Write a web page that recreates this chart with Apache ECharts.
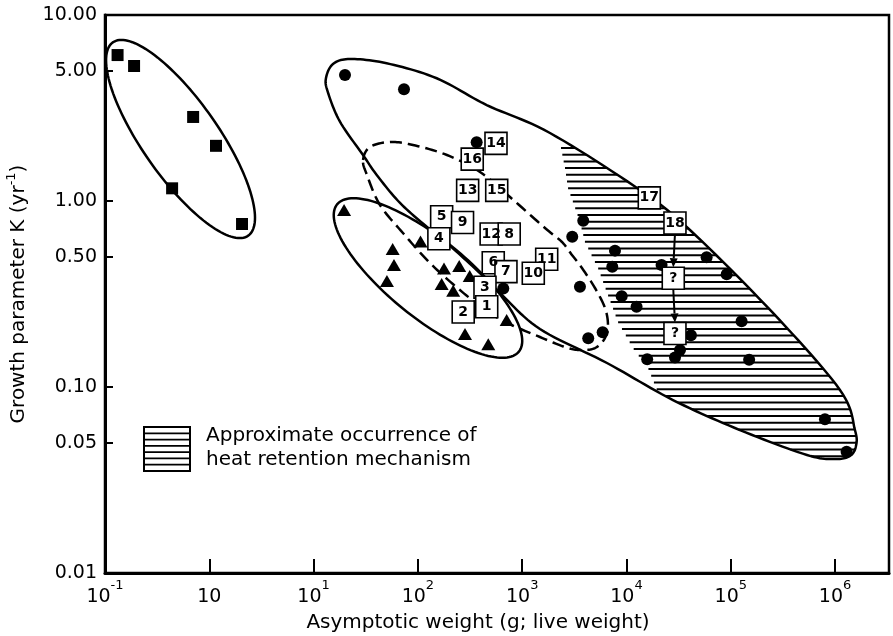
<!DOCTYPE html>
<html><head><meta charset="utf-8">
<script src="https://cdn.jsdelivr.net/npm/echarts@6/dist/echarts.min.js"></script>
<style>html,body{margin:0;padding:0;background:#fff}#c{width:893px;height:636px}</style>
</head><body><div id="c"></div>
<script>
// ---------- data ----------
const xTicks = [0.1, 1, 10, 100, 1000, 10000, 100000, 1000000];
const xTickLabels = ['{b|10}{s|-1}', '{b|10}', '{b|10}{s|1}', '{b|10}{s|2}', '{b|10}{s|3}', '{b|10}{s|4}', '{b|10}{s|5}', '{b|10}{s|6}'];
const yTicks = [0.01, 0.05, 0.1, 0.5, 1, 5, 10];
const yTickLabels = ['0.01', '0.05', '0.10', '0.50', '1.00', '5.00', '10.00'];

// [asymptotic weight (g), K (1/yr)]
const squares = [[0.132, 6.09], [0.19, 5.32], [0.70, 2.83], [1.16, 1.98], [0.44, 1.17], [2.06, 0.752]];
const triangles = [[19.6, 0.895], [106, 0.606], [57.3, 0.552], [59.0, 0.453], [50.5, 0.371], [178, 0.434], [249, 0.447],
  [314, 0.395], [169, 0.358], [218, 0.329], [710, 0.229], [283, 0.193], [473, 0.170]];
const circles = [[20.0, 4.76], [73.6, 3.99], [366, 2.07], [659, 0.339], [3850, 0.784], [3020, 0.643], [7760, 0.541],
  [7310, 0.443], [3580, 0.346], [9000, 0.308], [12500, 0.270], [4300, 0.183], [5910, 0.197], [21700, 0.453],
  [58700, 0.498], [91400, 0.404], [127000, 0.226], [41500, 0.190], [32600, 0.158], [29200, 0.144], [15800, 0.141],
  [150000, 0.140], [800000, 0.0671], [1290000, 0.0449]];
// [label, weight, K]
const boxes = [['14', 561, 2.04], ['16', 332, 1.68], ['13', 300, 1.14], ['15', 570, 1.14], ['5', 169, 0.823],
  ['9', 268, 0.766], ['4', 159, 0.627], ['12', 504, 0.665], ['8', 751, 0.665], ['6', 528, 0.466], ['7', 699, 0.417],
  ['11', 1718, 0.486], ['10', 1278, 0.409], ['3', 440, 0.344], ['2', 272, 0.253], ['1', 457, 0.270],
  ['17', 16550, 1.04], ['18', 29170, 0.762], ['?', 28100, 0.384], ['?', 29170, 0.194]];
const arrowLinks = [[17, 18], [18, 19]];

// ellipses: [centre weight, centre K, major-axis end weight, major-axis end K, minor/major ratio]
const ellipses = [[0.530, 2.154, 2.36, 0.651, 0.322], [125, 0.3855, 930, 0.155, 0.338]];
// outlines, [weight, K]
const bigOutline = [[13.15, 4.58], [15.35, 5.45], [22.3, 5.80], [50.2, 5.50], [151.5, 4.57], [457, 3.28], [1847, 2.32],
  [13470, 1.146], [40630, 0.698], [253800, 0.250], [1114000, 0.0964], [1551000, 0.0587], [1586000, 0.0482],
  [1390000, 0.0426], [997700, 0.0410], [537800, 0.0431], [122500, 0.0587], [27910, 0.0851], [6501, 0.1346],
  [1481, 0.205], [613, 0.320], [366, 0.4256], [189, 0.5945], [122.3, 0.725], [67.4, 0.976], [40.3, 1.38],
  [29.8, 1.767], [17.9, 2.67], [13.7, 3.85]];
const dashedOutline = [[29.8, 1.661], [34.7, 1.951], [54.0, 2.076], [89.7, 2.0], [190, 1.767], [394, 1.432], [764, 1.05],
  [1654, 0.716], [2407, 0.602], [3002, 0.5125], [3744, 0.436], [4989, 0.3406], [6222, 0.266], [6646, 0.2154],
  [6222, 0.1834], [4989, 0.162], [3583, 0.158], [2573, 0.164], [1481, 0.1857], [684, 0.2237], [421, 0.266],
  [253, 0.332], [130.6, 0.464], [71.9, 0.673], [43.3, 0.952], [32.5, 1.38]];
const hatchBoundary = [[2355, 1.927], [2573, 1.504], [2749, 1.175], [3069, 0.988], [3583, 0.771], [4000, 0.602],
  [5330, 0.436], [6646, 0.312], [8287, 0.2237], [11540, 0.162], [16080, 0.1265], [19610, 0.0964]];

const legendLines = ['Approximate occurrence of', 'heat retention mechanism'];
const xName = 'Asymptotic weight (g; live weight)';

// ---------- style ----------
const FONT = 'DejaVu Sans';
const BOX = 22;
const HATCH_GAP = 6.7;

function tickIndex(list, v) {
  for (let i = 0; i < list.length; i++) if (Math.abs(Math.log10(list[i]) - Math.log10(v)) < 1e-6) return i;
  return -1;
}
function smoothClosed(pts, steps) {
  const n = pts.length, out = [];
  for (let i = 0; i < n; i++) {
    const p0 = pts[(i - 1 + n) % n], p1 = pts[i], p2 = pts[(i + 1) % n], p3 = pts[(i + 2) % n];
    for (let s = 0; s < steps; s++) {
      const t = s / steps, t2 = t * t, t3 = t2 * t;
      const f = k => 0.5 * (2 * p1[k] + (-p0[k] + p2[k]) * t + (2 * p0[k] - 5 * p1[k] + 4 * p2[k] - p3[k]) * t2 + (-p0[k] + 3 * p1[k] - 3 * p2[k] + p3[k]) * t3);
      out.push([f(0), f(1)]);
    }
  }
  return out;
}
function interpX(pts, y) {
  if (y <= pts[0][1]) return pts[0][0];
  for (let i = 1; i < pts.length; i++) {
    if (y <= pts[i][1]) {
      const a = pts[i - 1], b = pts[i];
      return a[0] + (y - a[1]) / (b[1] - a[1]) * (b[0] - a[0]);
    }
  }
  const a = pts[pts.length - 2], b = pts[pts.length - 1];
  return b[0] + (y - b[1]) / (b[1] - a[1]) * (b[0] - a[0]);
}

const chart = echarts.init(document.getElementById('c'));
const legendChildren = [{type: 'rect', shape: {x: 144, y: 427, width: 46, height: 44}, style: {fill: '#fff', stroke: '#000', lineWidth: 2}}];
for (let k = 1; k <= 6; k++) {
  const y = 427 + k * 44 / 7;
  legendChildren.push({type: 'line', shape: {x1: 144, y1: y, x2: 190, y2: y}, style: {stroke: '#000', lineWidth: 1.8}});
}
legendLines.forEach((t, i) => legendChildren.push({type: 'text', x: 206, y: 436 + i * 24,
  style: {text: t, fill: '#000', font: '20px "' + FONT + '"', verticalAlign: 'middle', align: 'left'}}));

chart.setOption({
  animation: false,
  backgroundColor: '#fff',
  grid: {left: 105, right: 4, top: 15, bottom: 63, show: true, borderColor: '#000', borderWidth: 2.5,
    containLabel: false, outerBoundsMode: 'none'},
  graphic: [{type: 'group', children: legendChildren}],
  xAxis: {
    type: 'log', logBase: 10, min: 0.1, max: 3.29e6,
    axisLine: {show: true, lineStyle: {color: '#000', width: 3}},
    axisTick: {show: true, inside: true, length: 14, customValues: xTicks, lineStyle: {color: '#000', width: 2}},
    minorTick: {show: false}, splitLine: {show: false},
    axisLabel: {
      customValues: xTicks, margin: 6, color: '#000',
      formatter: v => { const i = tickIndex(xTicks, v); return i < 0 ? '' : xTickLabels[i]; },
      rich: {
        b: {fontSize: 19, fontFamily: FONT, color: '#000', lineHeight: 28, verticalAlign: 'bottom'},
        s: {fontSize: 13, fontFamily: FONT, color: '#000', lineHeight: 28, verticalAlign: 'top'}
      }
    },
    name: xName, nameLocation: 'middle', nameGap: 40,
    nameTextStyle: {fontSize: 20, fontFamily: FONT, color: '#000', padding: [0, 38, 0, 0]}
  },
  yAxis: {
    type: 'log', logBase: 10, min: 0.01, max: 10,
    axisLine: {show: true, lineStyle: {color: '#000', width: 3}},
    axisTick: {show: true, inside: true, length: 8, customValues: yTicks, lineStyle: {color: '#000', width: 2}},
    minorTick: {show: false}, splitLine: {show: false},
    axisLabel: {
      customValues: yTicks, margin: 8, color: '#000', fontSize: 19, fontFamily: FONT,
      formatter: v => { const i = tickIndex(yTicks, v); return i < 0 ? '' : yTickLabels[i]; }
    },
    name: '{n|Growth parameter K (yr}{s|-1}{n|)}', nameLocation: 'middle', nameGap: 76, nameRotate: 90,
    nameTextStyle: {
      color: '#000', fontFamily: FONT,
      rich: {
        n: {fontSize: 20, fontFamily: FONT, color: '#000', lineHeight: 24, verticalAlign: 'bottom'},
        s: {fontSize: 13, fontFamily: FONT, color: '#000', lineHeight: 24, verticalAlign: 'top'}
      }
    }
  },
  series: [
    { // hatched region
      type: 'custom', z: 1, silent: true, data: [bigOutline[0]], encode: {x: 0, y: 1},
      renderItem: (params, api) => {
        const poly = smoothClosed(bigOutline.map(p => api.coord(p)), 12);
        const hb = hatchBoundary.map(p => api.coord(p));
        let ymax = -Infinity;
        poly.forEach(p => { if (p[1] > ymax) ymax = p[1]; });
        const children = [];
        for (let y = hb[0][1]; y < ymax; y += HATCH_GAP) {
          const xs = [];
          for (let i = 0; i < poly.length; i++) {
            const a = poly[i], b = poly[(i + 1) % poly.length];
            if ((a[1] <= y && b[1] > y) || (b[1] <= y && a[1] > y)) xs.push(a[0] + (y - a[1]) / (b[1] - a[1]) * (b[0] - a[0]));
          }
          if (xs.length < 2) continue;
          xs.sort((p, q) => p - q);
          const xa = Math.max(xs[0], interpX(hb, y)), xr = xs[xs.length - 1];
          if (xr - xa > 1) children.push({type: 'line', shape: {x1: xa, y1: y, x2: xr, y2: y}, style: {stroke: '#000', lineWidth: 2}});
        }
        return {type: 'group', children};
      }
    },
    { // big outline (solid)
      type: 'custom', z: 2, silent: true, data: [bigOutline[0]], encode: {x: 0, y: 1},
      renderItem: (params, api) => ({type: 'polygon', shape: {points: smoothClosed(bigOutline.map(p => api.coord(p)), 12)},
        style: {fill: 'none', stroke: '#000', lineWidth: 2.5}})
    },
    { // dashed outline
      type: 'custom', z: 2, silent: true, data: [dashedOutline[0]], encode: {x: 0, y: 1},
      renderItem: (params, api) => ({type: 'polygon', shape: {points: smoothClosed(dashedOutline.map(p => api.coord(p)), 12)},
        style: {fill: 'none', stroke: '#000', lineWidth: 2.5, lineDash: [12, 6]}})
    },
    { // ellipses
      type: 'custom', z: 2, silent: true, data: ellipses, encode: {x: [0, 2], y: [1, 3]},
      renderItem: (params, api) => {
        const c = api.coord([api.value(0), api.value(1)]);
        const e = api.coord([api.value(2), api.value(3)]);
        const dx = e[0] - c[0], dy = e[1] - c[1];
        const a = Math.hypot(dx, dy), b = a * api.value(4), th = Math.atan2(dy, dx);
        const pts = [];
        for (let i = 0; i < 144; i++) {
          const t = i / 144 * 2 * Math.PI, u = a * Math.cos(t), v = b * Math.sin(t);
          pts.push([c[0] + u * Math.cos(th) - v * Math.sin(th), c[1] + u * Math.sin(th) + v * Math.cos(th)]);
        }
        return {type: 'polygon', shape: {points: pts}, style: {fill: 'none', stroke: '#000', lineWidth: 2.5}};
      }
    },
    {type: 'scatter', z: 3, silent: true, data: squares, symbol: 'rect', symbolSize: 12, itemStyle: {color: '#000', opacity: 1}},
    {type: 'scatter', z: 3, silent: true, data: triangles, symbol: 'triangle', symbolSize: [14, 12], itemStyle: {color: '#000', opacity: 1}},
    {type: 'scatter', z: 3, silent: true, data: circles, symbol: 'circle', symbolSize: 12, itemStyle: {color: '#000', opacity: 1}},
    { // arrows between boxes
      type: 'custom', z: 4, silent: true,
      data: arrowLinks.map(([i, j]) => [boxes[i][1], boxes[i][2], boxes[j][1], boxes[j][2]]),
      encode: {x: [0, 2], y: [1, 3]},
      renderItem: (params, api) => {
        const p1 = api.coord([api.value(0), api.value(1)]), p2 = api.coord([api.value(2), api.value(3)]);
        const x1 = p1[0], y1 = p1[1] + BOX / 2, x2 = p2[0], y2 = p2[1] - BOX / 2;
        const ang = Math.atan2(y2 - y1, x2 - x1), L = 9, W = 4;
        const bx = x2 - L * Math.cos(ang), by = y2 - L * Math.sin(ang);
        return {type: 'group', children: [
          {type: 'line', shape: {x1, y1, x2: bx, y2: by}, style: {stroke: '#000', lineWidth: 2}},
          {type: 'polygon', shape: {points: [[x2, y2], [bx + W * Math.sin(ang), by - W * Math.cos(ang)], [bx - W * Math.sin(ang), by + W * Math.cos(ang)]]},
            style: {fill: '#000'}}
        ]};
      }
    },
    { // numbered boxes
      type: 'scatter', z: 5, silent: true,
      data: boxes.map(b => ({name: b[0], value: [b[1], b[2]]})),
      symbol: 'rect', symbolSize: [BOX, BOX],
      itemStyle: {color: '#fff', borderColor: '#000', borderWidth: 1.6, opacity: 1},
      label: {show: true, position: 'inside', formatter: '{b}', color: '#000', fontSize: 14, fontWeight: 'bold', fontFamily: FONT}
    }
  ]
});
</script>
</body></html>
